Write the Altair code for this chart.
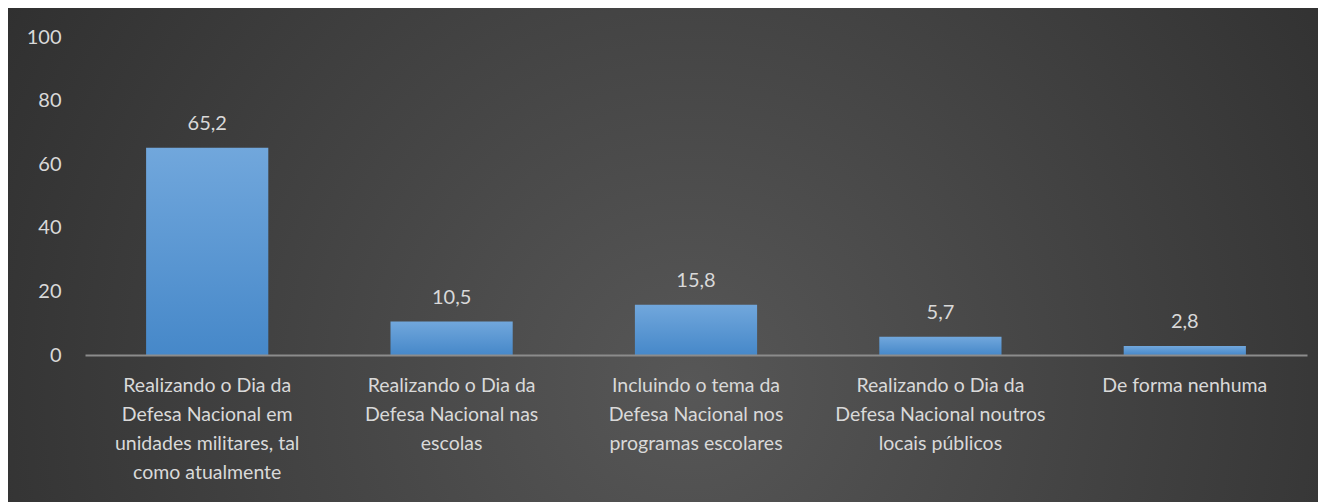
import altair as alt
import pandas as pd

categories = [
    "Realizando o Dia da|Defesa Nacional em|unidades militares, tal|como atualmente",
    "Realizando o Dia da|Defesa Nacional nas|escolas",
    "Incluindo o tema da|Defesa Nacional nos|programas escolares",
    "Realizando o Dia da|Defesa Nacional noutros|locais públicos",
    "De forma nenhuma",
]
values = [65.2, 10.5, 15.8, 5.7, 2.8]

df = pd.DataFrame({"cat": categories, "v": values})

FONT = "Lato"
TXT = "#d9d9d9"

bg_grad = alt.RadialGradient(
    gradient="radial", x1=0.52, y1=0.6, r1=0, x2=0.52, y2=0.6, r2=0.75,
    stops=[alt.GradientStop(offset=0, color="#575757"),
           alt.GradientStop(offset=1, color="#262626")],
)
bar_grad = alt.LinearGradient(
    gradient="linear", x1=0, y1=0, x2=0, y2=1,
    stops=[alt.GradientStop(offset=0, color="#71a7dc"),
           alt.GradientStop(offset=1, color="#4688c9")],
)

W, H = 1222, 318
PL, PT, PR, PB = 77, 29, 11, 147

bg = alt.Chart(pd.DataFrame({"a": [0]})).mark_rect(fill=bg_grad, strokeWidth=0).encode(
    x=alt.value(-PL), x2=alt.value(W + PR), y=alt.value(-PT), y2=alt.value(H + PB)
)

xenc = alt.X("cat:N", sort=categories, title=None,
             scale=alt.Scale(paddingInner=0.5, paddingOuter=0.25),
             axis=alt.Axis(labelAngle=0, labelExpr="split(datum.label, '|')",
                           labelFont=FONT, labelFontSize=19.5, labelColor=TXT,
                           labelLineHeight=29, labelPadding=21, labelLimit=0,
                           ticks=False, domainColor="#8c8c8c", domainWidth=2,
                           labelBaseline="top", zindex=1))
yenc = alt.Y("v:Q", title=None,
             scale=alt.Scale(domain=[0, 100]),
             axis=alt.Axis(values=[0, 20, 40, 60, 80, 100], grid=False, domain=False,
                           ticks=False, labelFont=FONT, labelFontSize=20,
                           labelColor=TXT, labelPadding=24, zindex=1))

bars = alt.Chart(df).mark_bar(fill=bar_grad).encode(x=xenc, y=yenc)

labels = alt.Chart(df).transform_calculate(
    lab="replace(format(datum.v, '.1f'), '.', ',')"
).mark_text(font=FONT, fontSize=20, color=TXT, baseline="bottom", dy=-14).encode(
    x=alt.X("cat:N", sort=categories), y="v:Q", text="lab:N"
)

chart = alt.layer(bg, bars, labels).properties(
    width=W, height=H,
    autosize=alt.AutoSizeParams(type="none"),
    padding={"left": PL, "top": PT, "right": PR, "bottom": PB},
).configure_view(stroke=None).configure(background="#2b2b2b")

chart.save("out.html", embed_options={"renderer": "svg", "actions": False})
